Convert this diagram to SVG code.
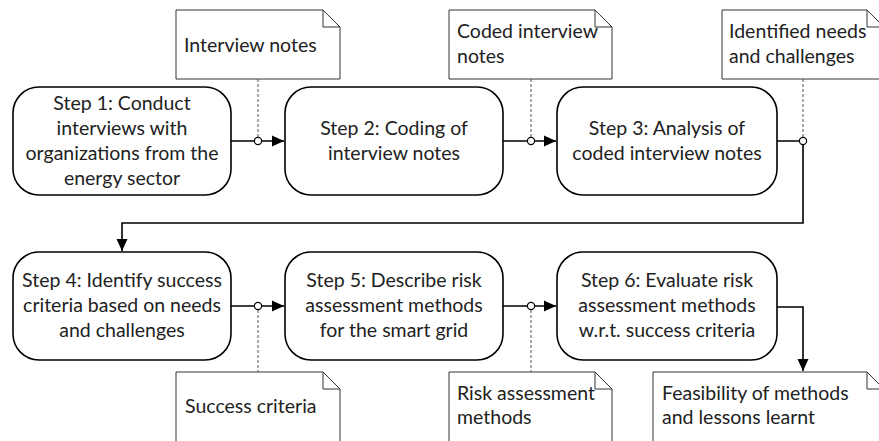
<svg xmlns="http://www.w3.org/2000/svg" width="879" height="441" viewBox="0 0 879 441">
<defs>
<style>
.step{fill:#fff;stroke:#000;stroke-width:1.6}
.note{fill:#fff;stroke:#333;stroke-width:1}
.fold{fill:none;stroke:#333;stroke-width:1}
.t{font-family:Lato,"Liberation Sans",sans-serif;font-size:19.5px;fill:#222}
.c{text-anchor:middle}
.flow{fill:none;stroke:#000;stroke-width:1.6}
.dash{fill:none;stroke:#555;stroke-width:1;stroke-dasharray:3,2}
.dot{fill:#fff;stroke:#000;stroke-width:1.2}
</style>
<marker id="arr" markerWidth="12" markerHeight="12" refX="12" refY="6" orient="auto" markerUnits="userSpaceOnUse">
<path d="M0,0.5 L12,6 L0,11.5 z" fill="#000"/>
</marker>
</defs>
<rect width="879" height="441" fill="#fff"/>

<g id="note1">
<path class="note" d="M176,10 H323 L340,27 V79 H176 Z"/>
<path class="fold" d="M323,10 V27 H340"/>
<text class="t" x="184" y="52">Interview notes</text>
</g>
<g id="note2">
<path class="note" d="M449,10 H595 L612,27 V79 H449 Z"/>
<path class="fold" d="M595,10 V27 H612"/>
<text class="t" x="457" y="38">Coded interview</text>
<text class="t" x="457" y="63">notes</text>
</g>
<g id="note3">
<path class="note" d="M722,10 H867 L884,27 V79 H722 Z"/>
<path class="fold" d="M867,10 V27 H884"/>
<text class="t" x="729" y="38">Identified needs</text>
<text class="t" x="729" y="63">and challenges</text>
</g>
<g id="note4">
<path class="note" d="M176,372 H323 L340,389 V445 H176 Z"/>
<path class="fold" d="M323,372 V389 H340"/>
<text class="t" x="185" y="413">Success criteria</text>
</g>
<g id="note5">
<path class="note" d="M449,372 H595 L612,389 V445 H449 Z"/>
<path class="fold" d="M595,372 V389 H612"/>
<text class="t" x="457" y="400">Risk assessment</text>
<text class="t" x="457" y="424">methods</text>
</g>
<g id="note6">
<path class="note" d="M653,372 H867 L884,389 V445 H653 Z"/>
<path class="fold" d="M867,372 V389 H884"/>
<text class="t" x="662" y="400">Feasibility of methods</text>
<text class="t" x="662" y="424">and lessons learnt</text>
</g>

<g id="step1">
<rect class="step" x="13" y="87" width="218" height="108" rx="26"/>
<text class="t c" x="122" y="110">Step 1: Conduct</text>
<text class="t c" x="122" y="135">interviews with</text>
<text class="t c" x="122" y="160">organizations from the</text>
<text class="t c" x="122" y="185">energy sector</text>
</g>
<g id="step2">
<rect class="step" x="285" y="87" width="218" height="108" rx="26"/>
<text class="t c" x="394" y="135">Step 2: Coding of</text>
<text class="t c" x="394" y="160">interview notes</text>
</g>
<g id="step3">
<rect class="step" x="557" y="87" width="220" height="108" rx="26"/>
<text class="t c" x="667" y="135">Step 3: Analysis of</text>
<text class="t c" x="667" y="160">coded interview notes</text>
</g>
<g id="step4">
<rect class="step" x="13" y="252" width="218" height="108" rx="26"/>
<text class="t c" x="122" y="287">Step 4: Identify success</text>
<text class="t c" x="122" y="312">criteria based on needs</text>
<text class="t c" x="122" y="337">and challenges</text>
</g>
<g id="step5">
<rect class="step" x="285" y="252" width="218" height="108" rx="26"/>
<text class="t c" x="394" y="287">Step 5: Describe risk</text>
<text class="t c" x="394" y="312">assessment methods</text>
<text class="t c" x="394" y="337">for the smart grid</text>
</g>
<g id="step6">
<rect class="step" x="557" y="252" width="220" height="108" rx="26"/>
<text class="t c" x="667" y="287">Step 6: Evaluate risk</text>
<text class="t c" x="667" y="312">assessment methods</text>
<text class="t c" x="667" y="337">w.r.t. success criteria</text>
</g>

<g id="connectors">
<path class="flow" d="M231,141 H284" marker-end="url(#arr)"/>
<path class="flow" d="M503,141 H556" marker-end="url(#arr)"/>
<path class="flow" d="M777,141 H803 V223 H122 V251" marker-end="url(#arr)"/>
<path class="flow" d="M231,306 H284" marker-end="url(#arr)"/>
<path class="flow" d="M503,306 H556" marker-end="url(#arr)"/>
<path class="flow" d="M777,307 H803 V371" marker-end="url(#arr)"/>
<path class="dash" d="M258,79 V137"/>
<path class="dash" d="M531,79 V137"/>
<path class="dash" d="M803,79 V137"/>
<path class="dash" d="M258,310 V372"/>
<path class="dash" d="M531,310 V372"/>
<circle class="dot" cx="258" cy="141" r="3.6"/>
<circle class="dot" cx="531" cy="141" r="3.6"/>
<circle class="dot" cx="803" cy="141" r="3.6"/>
<circle class="dot" cx="258" cy="306" r="3.6"/>
<circle class="dot" cx="531" cy="306" r="3.6"/>
</g>
</svg>
